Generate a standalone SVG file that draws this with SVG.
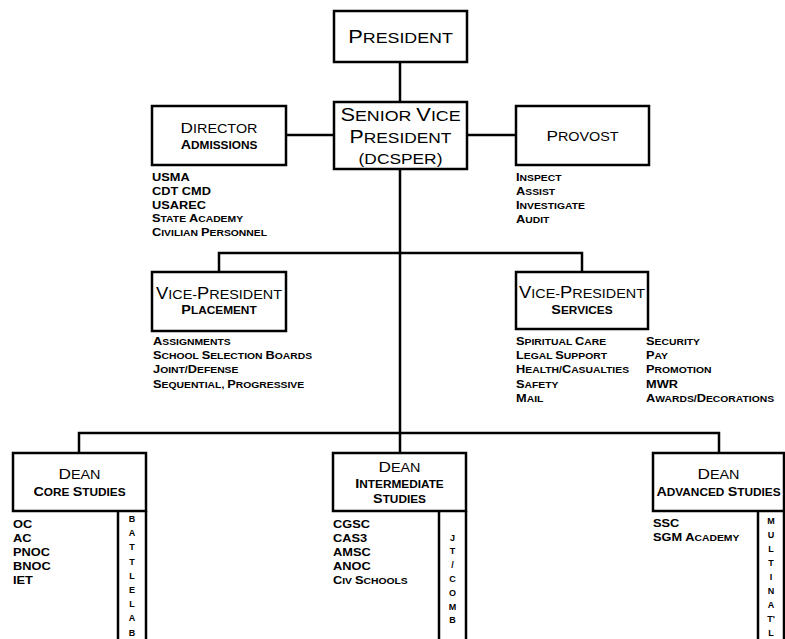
<svg xmlns="http://www.w3.org/2000/svg" width="785" height="639" viewBox="0 0 785 639">
<style>
.box{fill:#fff;stroke:#000;stroke-width:2.5}
.ln{fill:none;stroke:#000;stroke-width:2.5}
text{font-family:"Liberation Sans",Arial,sans-serif;fill:#000}
.h1{font-size:15.5px}.h1 .c{font-size:19px}
.h2{font-size:12.5px}.h2 .c{font-size:15px}
.h3{font-size:12.5px}.h3 .c{font-size:16px}
.sub{font-size:10.3px;font-weight:bold}.sub .c{font-size:12.5px}
.li{font-size:8.5px;font-weight:bold}.li .c{font-size:10.5px}
.bar{font-size:9px;font-weight:bold;text-anchor:middle}
.mid{text-anchor:middle}
</style>

<g id="connectors">
<line class="ln" x1="400" y1="62" x2="400" y2="102"/>
<line class="ln" x1="286" y1="135" x2="334" y2="135"/>
<line class="ln" x1="467" y1="135" x2="516" y2="135"/>
<line class="ln" x1="400" y1="169" x2="400" y2="453"/>
<polyline class="ln" points="219,272 219,253 582,253 582,272"/>
<polyline class="ln" points="79,453 79,433 719,433 719,453"/>
</g>

<g id="president">
<rect class="box" x="334" y="11" width="133" height="51"/>
<text class="h1 mid" transform="translate(400.5,43) scale(1.15,1)"><tspan class="c">P</tspan>RESIDENT</text>
</g>

<g id="senior-vice-president">
<rect class="box" x="334" y="102" width="133" height="67"/>
<text class="h1 mid" transform="translate(400.5,121) scale(1.15,1)"><tspan class="c">S</tspan>ENIOR <tspan class="c">V</tspan>ICE</text>
<text class="h1 mid" transform="translate(400.5,143) scale(1.12,1)"><tspan class="c">P</tspan>RESIDENT</text>
<text class="h1 mid" transform="translate(400.5,164) scale(1.12,1)">(DCSPER)</text>
</g>

<g id="director-admissions">
<rect class="box" x="152" y="106" width="134" height="59"/>
<text class="h2 mid" transform="translate(219,133) scale(1.15,1)"><tspan class="c">D</tspan>IRECTOR</text>
<text class="sub mid" transform="translate(219,149) scale(1.15,1)"><tspan class="c">A</tspan>DMISSIONS</text>
<g class="li" transform="translate(152,0) scale(1.22,1)">
<text y="181.5"><tspan class="c">USMA</tspan></text>
<text y="195.1"><tspan class="c">CDT CMD</tspan></text>
<text y="208.7"><tspan class="c">USAREC</tspan></text>
<text y="222.3"><tspan class="c">S</tspan>TATE <tspan class="c">A</tspan>CADEMY</text>
<text y="235.9"><tspan class="c">C</tspan>IVILIAN <tspan class="c">P</tspan>ERSONNEL</text>
</g>
</g>

<g id="provost">
<rect class="box" x="516" y="106" width="133" height="59"/>
<text class="h2 mid" transform="translate(582.5,141) scale(1.15,1)"><tspan class="c">P</tspan>ROVOST</text>
<g class="li" transform="translate(516,0) scale(1.22,1)">
<text y="181"><tspan class="c">I</tspan>NSPECT</text>
<text y="195"><tspan class="c">A</tspan>SSIST</text>
<text y="209"><tspan class="c">I</tspan>NVESTIGATE</text>
<text y="223"><tspan class="c">A</tspan>UDIT</text>
</g>
</g>

<g id="vp-placement">
<rect class="box" x="152" y="272" width="134" height="59"/>
<text class="h3 mid" transform="translate(219,299) scale(1.15,1)"><tspan class="c">V</tspan>ICE-<tspan class="c">P</tspan>RESIDENT</text>
<text class="sub mid" transform="translate(219,314) scale(1.15,1)"><tspan class="c">P</tspan>LACEMENT</text>
<g class="li" transform="translate(153,0) scale(1.22,1)">
<text y="345"><tspan class="c">A</tspan>SSIGNMENTS</text>
<text y="359"><tspan class="c">S</tspan>CHOOL <tspan class="c">S</tspan>ELECTION <tspan class="c">B</tspan>OARDS</text>
<text y="373.5"><tspan class="c">J</tspan>OINT/<tspan class="c">D</tspan>EFENSE</text>
<text y="388"><tspan class="c">S</tspan>EQUENTIAL, <tspan class="c">P</tspan>ROGRESSIVE</text>
</g>
</g>

<g id="vp-services">
<rect class="box" x="516" y="272" width="132" height="57"/>
<text class="h3 mid" transform="translate(582,298) scale(1.15,1)"><tspan class="c">V</tspan>ICE-<tspan class="c">P</tspan>RESIDENT</text>
<text class="sub mid" transform="translate(582,314) scale(1.15,1)"><tspan class="c">S</tspan>ERVICES</text>
<g class="li" transform="translate(516,0) scale(1.22,1)">
<text y="345"><tspan class="c">S</tspan>PIRITUAL <tspan class="c">C</tspan>ARE</text>
<text y="359"><tspan class="c">L</tspan>EGAL <tspan class="c">S</tspan>UPPORT</text>
<text y="373.5"><tspan class="c">H</tspan>EALTH/<tspan class="c">C</tspan>ASUALTIES</text>
<text y="388"><tspan class="c">S</tspan>AFETY</text>
<text y="402"><tspan class="c">M</tspan>AIL</text>
</g>
<g class="li" transform="translate(646,0) scale(1.22,1)">
<text y="345"><tspan class="c">S</tspan>ECURITY</text>
<text y="359"><tspan class="c">P</tspan>AY</text>
<text y="373.5"><tspan class="c">P</tspan>ROMOTION</text>
<text y="388"><tspan class="c">MWR</tspan></text>
<text y="402"><tspan class="c">A</tspan>WARDS/<tspan class="c">D</tspan>ECORATIONS</text>
</g>
</g>

<g id="dean-core">
<rect class="box" x="13" y="453" width="133" height="58"/>
<text class="h2 mid" transform="translate(79.5,479) scale(1.15,1)"><tspan class="c">D</tspan>EAN</text>
<text class="sub mid" transform="translate(79.5,496) scale(1.15,1)"><tspan class="c">C</tspan>ORE <tspan class="c">S</tspan>TUDIES</text>
<line class="ln" x1="118" y1="511" x2="118" y2="640"/>
<line class="ln" x1="146" y1="511" x2="146" y2="640"/>
<g class="li" transform="translate(13,0) scale(1.22,1)">
<text y="528.5"><tspan class="c">OC</tspan></text>
<text y="542.3"><tspan class="c">AC</tspan></text>
<text y="556.1"><tspan class="c">PNOC</tspan></text>
<text y="569.9"><tspan class="c">BNOC</tspan></text>
<text y="583.7"><tspan class="c">IET</tspan></text>
</g>
<g class="bar">
<text x="132" y="522">B</text>
<text x="132" y="536.2">A</text>
<text x="132" y="550.4">T</text>
<text x="132" y="564.6">T</text>
<text x="132" y="578.8">L</text>
<text x="132" y="593">E</text>
<text x="132" y="607.2">L</text>
<text x="132" y="621.4">A</text>
<text x="132" y="635.6">B</text>
</g>
</g>

<g id="dean-intermediate">
<rect class="box" x="333" y="453" width="133" height="58"/>
<text class="h2 mid" transform="translate(399.5,472) scale(1.15,1)"><tspan class="c">D</tspan>EAN</text>
<text class="sub mid" transform="translate(399.5,488) scale(1.15,1)"><tspan class="c">I</tspan>NTERMEDIATE</text>
<text class="sub mid" transform="translate(399.5,503) scale(1.15,1)"><tspan class="c">S</tspan>TUDIES</text>
<line class="ln" x1="439" y1="511" x2="439" y2="640"/>
<line class="ln" x1="466" y1="511" x2="466" y2="640"/>
<g class="li" transform="translate(333,0) scale(1.22,1)">
<text y="528"><tspan class="c">CGSC</tspan></text>
<text y="542"><tspan class="c">CAS3</tspan></text>
<text y="556"><tspan class="c">AMSC</tspan></text>
<text y="570"><tspan class="c">ANOC</tspan></text>
<text y="584"><tspan class="c">C</tspan>IV <tspan class="c">S</tspan>CHOOLS</text>
</g>
<g class="bar">
<text x="452.5" y="540.5">J</text>
<text x="452.5" y="554.3">T</text>
<text x="452.5" y="568.1">/</text>
<text x="452.5" y="581.9">C</text>
<text x="452.5" y="595.7">O</text>
<text x="452.5" y="609.5">M</text>
<text x="452.5" y="623.3">B</text>
</g>
</g>

<g id="dean-advanced">
<rect class="box" x="653" y="453" width="131" height="58"/>
<text class="h2 mid" transform="translate(718.5,479) scale(1.15,1)"><tspan class="c">D</tspan>EAN</text>
<text class="sub mid" transform="translate(718.5,496) scale(1.15,1)"><tspan class="c">A</tspan>DVANCED <tspan class="c">S</tspan>TUDIES</text>
<line class="ln" x1="758" y1="511" x2="758" y2="640"/>
<line class="ln" x1="784" y1="511" x2="784" y2="640"/>
<g class="li" transform="translate(653,0) scale(1.22,1)">
<text y="527"><tspan class="c">SSC</tspan></text>
<text y="541"><tspan class="c">SGM A</tspan>CADEMY</text>
</g>
<g class="bar">
<text x="771" y="523.5">M</text>
<text x="771" y="537.6">U</text>
<text x="771" y="551.7">L</text>
<text x="771" y="565.8">T</text>
<text x="771" y="579.9">I</text>
<text x="771" y="594">N</text>
<text x="771" y="608.1">A</text>
<text x="771" y="622.2">T'</text>
<text x="771" y="636.3">L</text>
</g>
</g>
</svg>
